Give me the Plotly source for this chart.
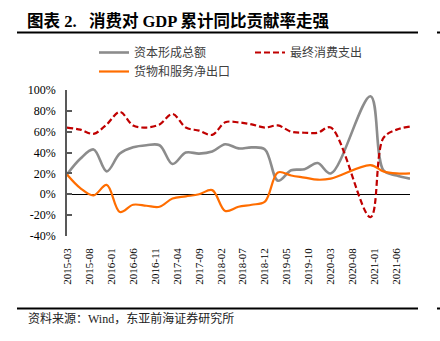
import plotly.graph_objects as go

# ---- data (cumulative YoY contribution rate to GDP, %) ----
dates = ["2015-03-01", "2015-06-01", "2015-09-01", "2015-12-01",
         "2016-03-01", "2016-06-01", "2016-09-01", "2016-12-01",
         "2017-03-01", "2017-06-01", "2017-09-01", "2017-12-01",
         "2018-03-01", "2018-06-01", "2018-09-01", "2018-12-01",
         "2019-03-01", "2019-06-01", "2019-09-01", "2019-12-01",
         "2020-03-01", "2020-12-01",
         "2021-03-01", "2021-06-01", "2021-09-01"]
capital = [19, 34, 43, 22, 39, 45, 47, 47, 29, 40, 39, 41,
           48, 44, 45, 43, 13, 23, 24, 30, 20, 94, 23, 18, 15]
consumption = [64, 62, 58, 67, 79, 66, 64, 67, 77, 64, 61, 57,
               69, 69, 67, 64, 66, 60, 59, 59, 64, -22, 54, 62, 65]
net_exports = [19, 6, -1, 9, -17, -10, -11, -12, -4, -2, 0, 4,
               -16, -12, -10, -7, 21, 18, 16, 14, 15, 28, 22, 20, 20]
names = ["资本形成总额", "最终消费支出", "货物和服务净出口"]
yticks = [-40, -20, 0, 20, 40, 60, 80, 100]
ytick_labels = ["-40%", "-20%", "0%", "20%", "40%", "60%", "80%", "100%"]

W, H = 440, 341
L, R, T, B = 67, 410, 90, 236   # plot area in pixels


def px(x):
    return (x - L) / (R - L)


def py(y):
    return (B - y) / (B - T)


CJK = "Noto Sans CJK SC"
SERIF = "Liberation Serif, Noto Sans CJK SC"

fig = go.Figure()
fig.add_trace(go.Scatter(x=dates, y=capital, name=names[0], mode="lines",
                         line=dict(color="#8C8C8C", width=2.6, shape="spline", smoothing=1.0)))
fig.add_trace(go.Scatter(x=dates, y=consumption, name=names[1], mode="lines",
                         line=dict(color="#C00000", width=2.2, shape="spline", smoothing=1.0,
                                   dash="6px,3px")))
fig.add_trace(go.Scatter(x=dates, y=net_exports, name=names[2], mode="lines",
                         line=dict(color="#FF6D00", width=2.2, shape="spline", smoothing=1.0)))

fig.update_layout(
    width=W, height=H,
    margin=dict(l=L, r=W - R, t=T, b=H - B, pad=0),
    paper_bgcolor="white", plot_bgcolor="white",
    title=dict(text="<b>图表 2.   消费对 GDP 累计同比贡献率走强</b>",
               x=27 / W, xanchor="left", xref="container",
               y=1 - 21 / H, yanchor="middle", yref="container",
               font=dict(family=SERIF, size=16.5, color="#000000")),
    legend=dict(orientation="h", x=px(94), xanchor="left", y=py(38), yanchor="top",
                entrywidth=111, entrywidthmode="pixels",
                font=dict(family=CJK, size=12, color="#404040"),
                bgcolor="rgba(0,0,0,0)", tracegroupgap=0, itemwidth=30),
    showlegend=True,
    xaxis=dict(type="date", range=["2015-03-01", "2021-09-01"],
               tick0="2015-03-01", dtick="M5", tickformat="%Y-%m",
               tickangle=-90, showgrid=False, zeroline=False, showline=False,
               ticks="", ticklabelstandoff=9,
               tickfont=dict(family="Liberation Serif", size=11, color="#000000")),
    yaxis=dict(range=[-40, 100], tickvals=yticks, ticktext=ytick_labels,
               showgrid=False, showline=True, linecolor="#595959", linewidth=1.5,
               ticks="inside", ticklen=5, tickwidth=1.5, tickcolor="#595959",
               zeroline=True, zerolinecolor="#000000", zerolinewidth=1.2,
               ticklabelstandoff=7,
               tickfont=dict(family="Liberation Serif", size=12, color="#000000")),
)

# rules above and below the chart
for yy in (32.5, 308.5):
    fig.add_shape(type="line", xref="paper", yref="paper",
                  x0=px(17), x1=px(418), y0=py(yy), y1=py(yy),
                  line=dict(color="#000000", width=2))
    fig.add_shape(type="line", xref="paper", yref="paper",
                  x0=px(437), x1=px(441), y0=py(yy), y1=py(yy),
                  line=dict(color="#000000", width=2))

fig.add_annotation(text="资料来源：Wind，东亚前海证券研究所", xref="paper", yref="paper",
                   x=px(26), y=py(318), xanchor="left", yanchor="middle", showarrow=False,
                   font=dict(family=SERIF, size=12, color="#222222"))

fig.write_html("out.html")
